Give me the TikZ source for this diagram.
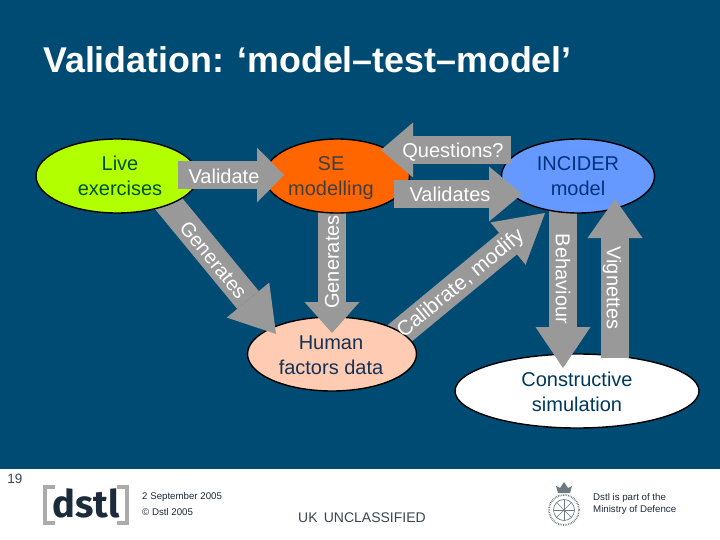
\documentclass[tikz,border=0pt]{standalone}
\usepackage{fontspec}
\setmainfont{Liberation Sans}
\newfontfamily\logofont{Fira Sans}
\usetikzlibrary{arrows.meta,shapes.geometric}
\definecolor{slide}{HTML}{004B73}
\definecolor{arrowgrey}{HTML}{999999}
\definecolor{bracketgrey}{HTML}{ABABAB}
\definecolor{logoink}{HTML}{1C2B3A}
\definecolor{crestgrey}{HTML}{6E7A82}
\tikzset{
  x=1pt,y=-1pt,
  oval/.style={draw=black,line width=1.4pt,ellipse,inner sep=0pt,minimum height=74pt},
  ovaltext/.style={inner sep=0pt,align=center,font=\fontsize{20}{24.5}\selectfont},
  blockarrow/.style={draw=arrowgrey,line width=28pt,
    -{Triangle[length=#1,width=55pt,line width=0pt]}},
  blocklabel/.style={text=white,inner sep=0pt,font=\fontsize{20}{24}\selectfont},
  footer/.style={inner sep=0pt,anchor=west,text=logoink,font=\fontsize{9.7}{11}\selectfont},
  crestline/.style={draw=crestgrey,line width=0.7pt},
}
\begin{document}
\begin{tikzpicture}
\useasboundingbox (0,0) rectangle (720,540);
\fill[white] (0,0) rectangle (720,540);
\fill[slide] (0,0) rectangle (720,469);
\node[anchor=west,inner sep=0pt,text=white,font=\bfseries\fontsize{35.8}{44}\selectfont] (title) at (43,60) {Validation: ‘model–test–model’};

\coordinate (genTail) at (164,198);
\coordinate (genTip) at (276,334);
\coordinate (gen2Tail) at (332,205);
\coordinate (gen2Tip) at (332,333);
\coordinate (valTail) at (178,175);
\coordinate (valTip) at (284,175);
\coordinate (queTail) at (511,150);
\coordinate (queTip) at (381,150);
\coordinate (vasTail) at (394,194);
\coordinate (vasTip) at (522,194);
\coordinate (calTail) at (394,338);
\coordinate (calTip) at (545,213);
\coordinate (behTail) at (563,205);
\coordinate (behTip) at (563,368);
\coordinate (vigTail) at (615,358);
\coordinate (vigTip) at (615,199);

\node[oval,fill=white,minimum width=244pt] (sim) at (577,391) {};
\draw[blockarrow=41pt] (behTail) -- (behTip);
\node[oval,fill={rgb,255:red,102;green,153;blue,255},minimum width=153pt] (incider) at (578,176) {};
\draw[blockarrow=48pt] (calTail) -- (calTip);
\node[oval,fill={rgb,255:red,255;green,204;blue,179},minimum width=169pt] (human) at (332,354) {};
\draw[blockarrow=44pt] (genTail) -- (genTip);
\draw[blockarrow=31pt] (gen2Tail) -- (gen2Tip);
\node[oval,fill={rgb,255:red,178;green,255;blue,0},minimum width=162pt] (live) at (117,176) {};
\node[oval,fill={rgb,255:red,255;green,102;blue,0},minimum width=145pt] (se) at (337,176) {};
\draw[blockarrow=27pt] (valTail) -- (valTip);
\draw[blockarrow=32pt] (queTail) -- (queTip);
\draw[blockarrow=33pt] (vasTail) -- (vasTip);
\draw[blockarrow=39pt] (vigTail) -- (vigTip);

% Ellipse texts
\node[ovaltext,text={rgb,255:red,0;green,80;blue,40}] (tLive) at (120,178) {\strut Live\\\strut exercises};
\node[ovaltext,text={rgb,255:red,64;green,64;blue,64}] (tSE) at (331,178) {\strut SE\\\strut modelling};
\node[ovaltext,text={rgb,255:red,0;green,50;blue,125}] (tInc) at (578,178) {\strut INCIDER\\\strut model};
\node[ovaltext,text={rgb,255:red,20;green,50;blue,85}] (tHum) at (331,357) {\strut Human\\\strut factors data};
\node[ovaltext,text={rgb,255:red,0;green,58;blue,90}] (tSim) at (577,394) {\strut Constructive\\\strut simulation};

% Arrow labels
\node[blocklabel] (lValidate) at (224,176) {Validate};
\node[blocklabel,rotate=-50.6] (lGen) at (213.5,260) {Generates};
\node[blocklabel,rotate=90] (lGen2) at (332,262) {Generates};
\node[blocklabel] (lQue) at (453,152.5) {Questions?};
\node[blocklabel] (lVas) at (450,194) {Validates};
\node[blocklabel,rotate=39.6,font=\fontsize{21}{24}\selectfont] (lCal) at (461,284) {Calibrate, modify};
\node[blocklabel,rotate=-90] (lBeh) at (563,279) {Behaviour};
\node[blocklabel,rotate=-90] (lVig) at (612,288) {Vignettes};

% Footer
\node[inner sep=0pt,text={rgb,255:red,60;green,70;blue,80},font=\fontsize{13.5}{16}\selectfont] (page) at (15,479) {19};
\draw[bracketgrey,line width=4pt] (55,487) -- (45,487) -- (45,523) -- (55,523);
\draw[bracketgrey,line width=4pt] (117,487) -- (127,487) -- (127,523) -- (117,523);
\node[inner sep=0pt,text=logoink,font=\logofont\bfseries\fontsize{38}{40}\selectfont] (logo) at (86,503) {dstl};
\node[footer] (date) at (142,497) {2 September 2005};
\node[footer] (copy) at (142,512) {© Dstl 2005};
\node[inner sep=0pt,anchor=west,text={rgb,255:red,60;green,70;blue,80},font=\fontsize{14}{16}\selectfont] (class) at (298,518) {UK\, UNCLASSIFIED};
\node[footer] (mod1) at (593,498) {Dstl is part of the};
\node[footer] (mod2) at (593,510) {Ministry of Defence};

% Crest
\draw[crestline,densely dotted,line width=1.8pt] (564,510) circle (15pt);
\draw[crestline] (564,510) circle (10.5pt);
\foreach \a in {0,45,...,315} {\draw[crestline,line width=0.6pt] (564,510) -- ++(\a:10);}
\fill[crestgrey] (558,493) -- (556,486) -- (560,488) -- (564,482) -- (568,488) -- (572,486) -- (570,493) -- cycle;
\end{tikzpicture}
\end{document}
